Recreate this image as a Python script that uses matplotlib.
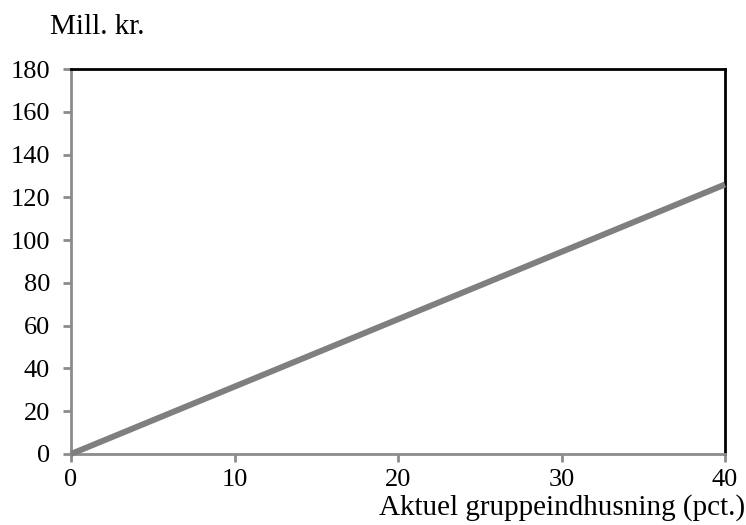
import matplotlib
matplotlib.use("Agg")
import matplotlib.pyplot as plt

x_vals = [0, 40]
y_vals = [0, 126]
x_ticks = [0, 10, 20, 30, 40]
y_ticks = [0, 20, 40, 60, 80, 100, 120, 140, 160, 180]

plt.rcParams['font.family'] = ['Liberation Serif', 'DejaVu Serif']

fig = plt.figure(figsize=(7.46, 5.25), dpi=100)
ax = fig.add_axes([71/746, 1-454/525, (725-71)/746, (454-69)/525])
ax.plot(x_vals, y_vals, color='#7f7f7f', linewidth=4.3, solid_capstyle='butt', clip_on=False, zorder=3)
ax.set_xlim(0, 40)
ax.set_ylim(0, 180)
ax.set_xticks(x_ticks)
ax.set_yticks(y_ticks)
ax.tick_params(axis='both', labelsize=19, color='#8c8c8c', width=2, length=6, direction='out')
ax.tick_params(axis='x', pad=5)
ax.tick_params(axis='y', pad=9)
for s in ['left', 'bottom']:
    ax.spines[s].set_color('#8c8c8c')
    ax.spines[s].set_linewidth(2)
for s in ['top', 'right']:
    ax.spines[s].set_color('black')
    ax.spines[s].set_linewidth(2)
fig.text(745/746, 1-508/525, 'Aktuel gruppeindhusning (pct.)', ha='right', va='center', fontsize=21)
fig.text(50/746, 1-27/525, 'Mill. kr.', ha='left', va='center', fontsize=21)
fig.savefig('out.png', dpi=100)
